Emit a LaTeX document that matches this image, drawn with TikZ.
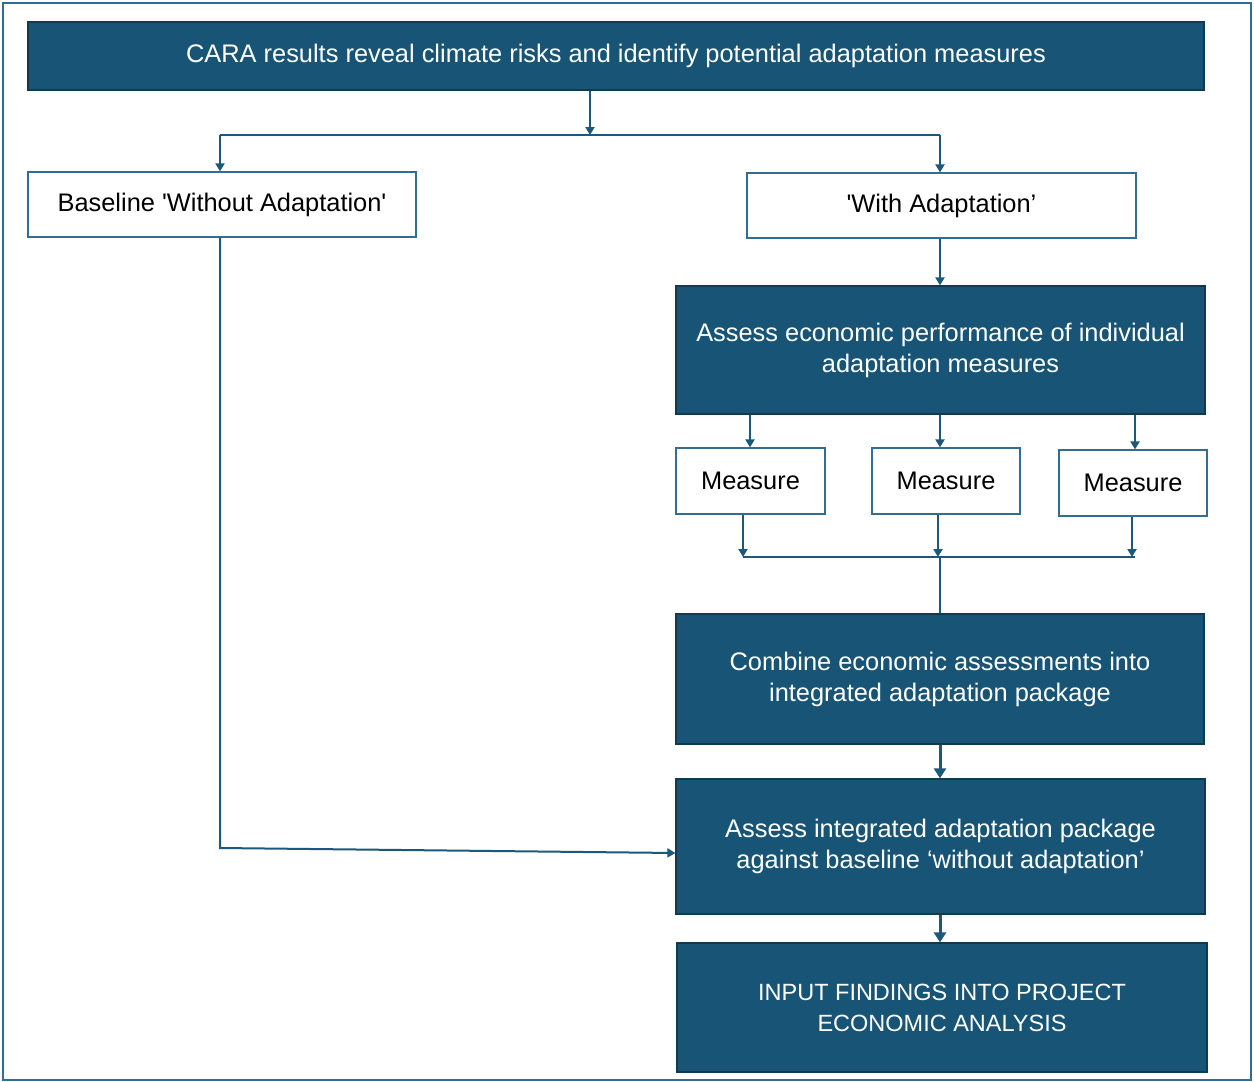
\documentclass[tikz,border=0pt]{standalone}
\usepackage{fontspec}
\setmainfont{Liberation Sans}
\usetikzlibrary{arrows.meta}
\definecolor{darkbox}{RGB}{23,84,117}
\definecolor{darkedge}{RGB}{16,58,80}
\definecolor{lightedge}{RGB}{50,110,145}
\definecolor{conn}{RGB}{28,88,122}
\tikzset{
  dbox/.style={draw=darkedge, line width=1.2pt, fill=darkbox, text=white, inner sep=0pt, align=center, font=\fontsize{25.4}{31}\selectfont},
  wbox/.style={draw=lightedge, line width=1.2pt, fill=white, text=black, inner sep=0pt, align=center, font=\fontsize{25.4}{31}\selectfont},
  conline/.style={draw=conn, line width=2pt},
  arr/.style={conline, -{Triangle[length=8pt,width=9pt]}},
  bigarr/.style={conn, draw=conn, line width=3pt, -{Triangle[length=10pt,width=12pt]}},
}
\begin{document}
\begin{tikzpicture}[x=1pt,y=-1pt]
\useasboundingbox (0,0) rectangle (1254,1082);
\draw[lightedge, line width=2pt] (3,3) rectangle (1251,1080);

\node[dbox, minimum width=1176pt, minimum height=68pt] (cara) at (616,56) {CARA results reveal climate risks and identify potential adaptation measures};
\node[wbox, minimum width=388pt, minimum height=65pt] (base) at (222,204.5) {Baseline \textquotesingle Without Adaptation\textquotesingle};
\node[wbox, minimum width=389pt, minimum height=65pt] (with) at (941.5,205.5) {\textquotesingle With Adaptation’};
\node[dbox, minimum width=529pt, minimum height=128pt] (indiv) at (940.5,350) {Assess economic performance of individual\\adaptation measures};
\node[wbox, minimum width=149pt, minimum height=66pt] (m1) at (750.5,481) {Measure};
\node[wbox, minimum width=148pt, minimum height=66pt] (m2) at (946,481) {Measure};
\node[wbox, minimum width=148pt, minimum height=66pt] (m3) at (1133,483) {Measure};
\node[dbox, minimum width=528pt, minimum height=130pt] (comb) at (940,679) {Combine economic assessments into\\integrated adaptation package};
\node[dbox, minimum width=529pt, minimum height=135pt] (integ) at (940.5,846.5) {Assess integrated adaptation package\\against baseline ‘without adaptation’};
\node[dbox, minimum width=530pt, minimum height=129pt, font=\fontsize{23.5}{31}\selectfont] (input) at (942,1007.5) {INPUT FINDINGS INTO PROJECT\\ECONOMIC ANALYSIS};

\coordinate (split) at (590,135);
\coordinate (sl) at (220,135);
\coordinate (sr) at (940,135);
\coordinate (j1) at (743,557);
\coordinate (j2) at (938,557);
\coordinate (j3) at (1132,557);
\coordinate (jm) at (940,557);
\coordinate (bcorner) at (220,848);

\draw[arr] (cara.south -| split) -- (split);
\draw[conline] (sl) -- (sr);
\draw[arr] (sl) -- (base.north -| sl);
\draw[arr] (sr) -- (with.north -| sr);
\draw[arr] (with.south -| sr) -- (indiv.north -| sr);
\draw[arr] (indiv.south -| 750,0) -- (m1.north -| 750,0);
\draw[arr] (indiv.south -| 940,0) -- (m2.north -| 940,0);
\draw[arr] (indiv.south -| 1135,0) -- (m3.north -| 1135,0);
\draw[arr] (m1.south -| j1) -- (j1);
\draw[arr] (m2.south -| j2) -- (j2);
\draw[arr] (m3.south -| j3) -- (j3);
\draw[conline] (j1) -- (j3 -| 1135,0);
\draw[conline] (jm) -- (comb.north -| jm);
\draw[bigarr] (comb.south -| jm) -- (integ.north -| jm);
\draw[arr] (base.south -| bcorner) -- (bcorner) -- (integ.west |- 0,853);
\draw[bigarr] (integ.south -| jm) -- (input.north -| jm);
\end{tikzpicture}
\end{document}
